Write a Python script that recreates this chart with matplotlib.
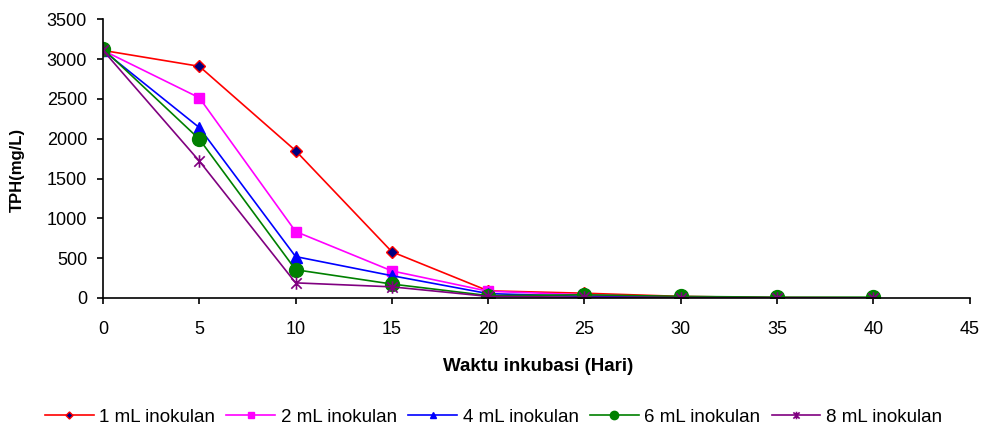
#!/usr/bin/env python3
import matplotlib
matplotlib.use("Agg")
import matplotlib.pyplot as plt
from matplotlib.path import Path

plt.rcParams['font.family'] = ['Liberation Sans', 'DejaVu Sans']

days = [0, 5, 10, 15, 20, 25, 30, 35, 40]
tph_1ml = [3110, 2910, 1850, 580, 90, 60, 20, 5, 2]
tph_2ml = [3110, 2515, 835, 340, 85, 40, 10, 5, 2]
tph_4ml = [3110, 2140, 520, 280, 55, 20, 5, 2, 0]
tph_6ml = [3130, 1995, 355, 175, 30, 40, 20, 10, 10]
tph_8ml = [3110, 1720, 190, 140, 20, 10, 5, 2, 0]
labels = ["1 mL inokulan", "2 mL inokulan", "4 mL inokulan", "6 mL inokulan", "8 mL inokulan"]

# excel-like asterisk: an x with a vertical bar through it
star = Path([(-1, -1), (1, 1), (-1, 1), (1, -1), (0, -1.2), (0, 1.2)],
            [Path.MOVETO, Path.LINETO, Path.MOVETO, Path.LINETO, Path.MOVETO, Path.LINETO])

styles = [
    dict(color='red', marker='D', markerfacecolor='#000080', markeredgecolor='red', markersize=6),
    dict(color='magenta', marker='s', markerfacecolor='magenta', markeredgecolor='magenta', markersize=7),
    dict(color='blue', marker='^', markerfacecolor='blue', markeredgecolor='blue', markersize=8),
    dict(color='green', marker='o', markerfacecolor='green', markeredgecolor='green', markersize=10),
    dict(color='purple', marker=star, markerfacecolor='none', markeredgecolor='purple',
         markersize=9, markeredgewidth=1.2),
]

fig = plt.figure(figsize=(9.87, 4.30), dpi=100)
ax = fig.add_axes([0.1044, 0.307, 0.878, 0.648])

series = [tph_1ml, tph_2ml, tph_4ml, tph_6ml, tph_8ml]
for vals, lab, st in zip(series, labels, styles):
    ax.plot(days, vals, label=lab, linewidth=1.2, **st)

ax.set_xlim(0, 45)
ax.set_ylim(0, 3500)
ax.set_xticks(range(0, 46, 5))
ax.set_yticks(range(0, 3501, 500))
ax.tick_params(labelsize=13, direction='out', length=4.5, width=1.2)
ax.tick_params(axis='x', pad=12)
ax.tick_params(axis='y', pad=7)
for pos in ['top', 'right']:
    ax.spines[pos].set_visible(False)
for pos in ['left', 'bottom']:
    ax.spines[pos].set_linewidth(1.2)

ax.set_xlabel("Waktu inkubasi (Hari)", fontsize=13.5, fontweight='bold')
ax.set_ylabel("TPH(mg/L)", fontsize=12, fontweight='bold')
ax.xaxis.set_label_coords(0.502, -0.215)
ax.yaxis.set_label_coords(-0.09, 0.46)

fig.legend(loc='center', bbox_to_anchor=(0.5, 0.03), ncol=5, frameon=False, fontsize=13.5,
           handlelength=2.6, handletextpad=0.3, columnspacing=0.6, markerscale=0.6)

plt.savefig("out.png", dpi=100)
